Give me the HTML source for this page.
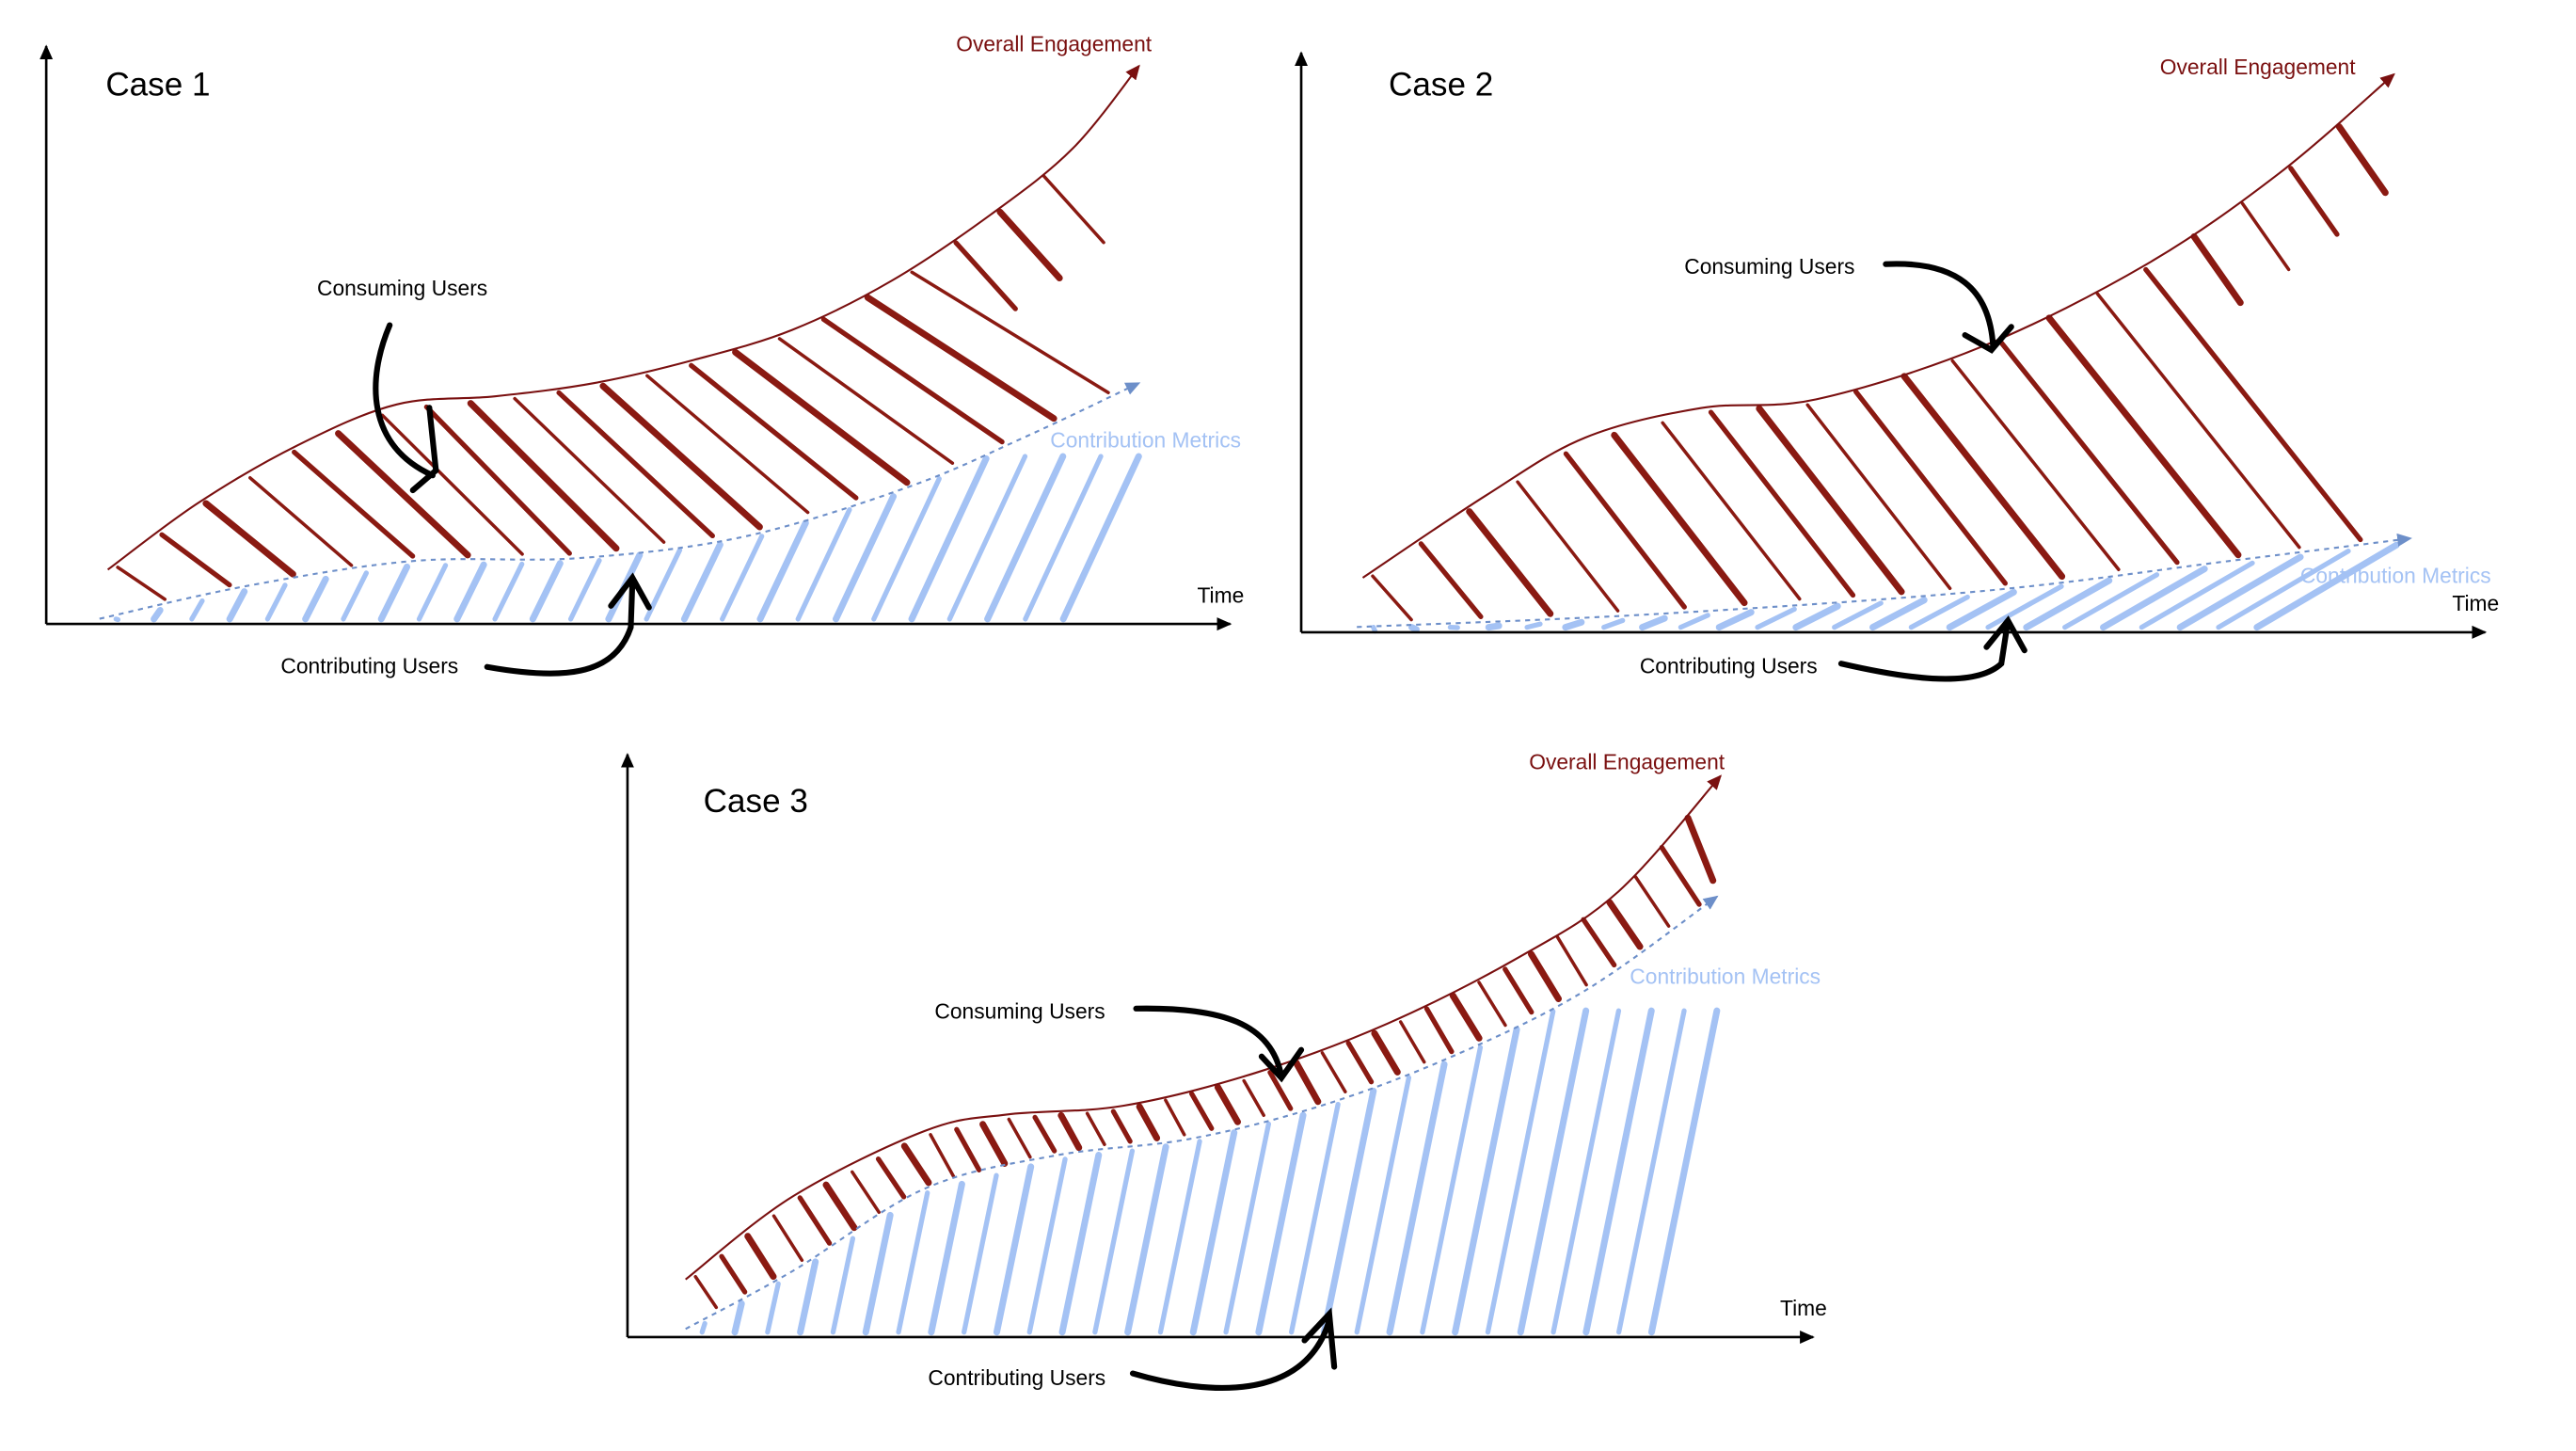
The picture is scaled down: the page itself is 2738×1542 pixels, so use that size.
<!DOCTYPE html>
<html><head><meta charset="utf-8"><style>
html,body{margin:0;padding:0;background:#fff;}
svg{display:block;}
text{font-family:"Liberation Sans",sans-serif;}
</style></head><body>
<svg id="chart" width="2738" height="1542" viewBox="0 0 1560 879" preserveAspectRatio="none" xmlns="http://www.w3.org/2000/svg">
<defs>
<marker id="ab" markerWidth="10" markerHeight="10" refX="8" refY="5" orient="auto" markerUnits="userSpaceOnUse"><path d="M0,1 L9,5 L0,9 Z" fill="#000"/></marker>
<marker id="ar" markerWidth="10" markerHeight="10" refX="8" refY="5" orient="auto" markerUnits="userSpaceOnUse"><path d="M0,1 L9,5 L0,9 Z" fill="#7a1010"/></marker>
<marker id="au" markerWidth="10" markerHeight="10" refX="8" refY="5" orient="auto" markerUnits="userSpaceOnUse"><path d="M0,1 L9,5 L0,9 Z" fill="#6d8fc9"/></marker>
</defs>
<g id="root"></g>
</svg>
<script>
// Case 1 data (time 0..100, value 0..100)
const c1EngT = [5.2,12.8,21.2,29.6,37.9,46.3,54.7,63,71.4,79.8,86.7,92.3];
const c1EngV = [9.4,20.9,30.9,38,39.4,41.7,45.7,50.9,59.4,70.9,82.3,96.6];
const c1ConT = [4.5,17,31,45,58.9,72.8,82.6,92.3];
const c1ConV = [0.9,6.6,10.9,11.4,15.1,23.7,32.3,41.7];
// Case 2 data
const c2EngT = [5.2,15.6,24,33.8,43.5,57.5,71.4,82.6,92.3];
const c2EngV = [9.4,23.6,33.6,38.7,40.2,49.3,63.5,79.2,96.3];
const c2ConT = [4.7,29.6,57.5,78.4,93.7];
const c2ConV = [0.9,3.1,7.1,12.3,16.2];
// Case 3 data
const c3EngT = [4.9,13.9,25.1,32,41.8,52.9,64.1,75.2,83.6,92.2];
const c3EngV = [9.9,24.1,35.4,38.2,39.7,45.3,53.8,65.2,76.5,96.3];
const c3ConT = [4.9,13.9,25.1,36.2,47.4,58.5,69.6,80.8,91.9];
const c3ConV = [1.4,11.3,25.5,31.2,34,39.7,48.2,59.5,75.6];

const NS="http://www.w3.org/2000/svg";
const root=document.getElementById('root');
function mk(tag,attrs,parent){const e=document.createElementNS(NS,tag);for(const k in attrs)e.setAttribute(k,attrs[k]);(parent||root).appendChild(e);return e;}
function interp(ts,vs,t){if(t<=ts[0])return vs[0];for(let i=1;i<ts.length;i++){if(t<=ts[i]){const f=(t-ts[i-1])/(ts[i]-ts[i-1]);return vs[i-1]+f*(vs[i]-vs[i-1]);}}return vs[vs.length-1];}
function smooth(pts){let d='M'+pts[0][0]+','+pts[0][1];for(let i=1;i<pts.length;i++){const p0=pts[i-2]||pts[i-1],p1=pts[i-1],p2=pts[i],p3=pts[i+1]||p2;const c1x=p1[0]+(p2[0]-p0[0])/6,c1y=p1[1]+(p2[1]-p0[1])/6,c2x=p2[0]-(p3[0]-p1[0])/6,c2y=p2[1]-(p3[1]-p1[1])/6;d+=` C${c1x},${c1y} ${c2x},${c2y} ${p2[0]},${p2[1]}`;}return d;}

function panel(id,p){
  const g=mk('g',{});
  
  
  const xs=t=>p.x0+t*p.w/100, ys=v=>p.y0-v*p.h/100;
  const tx=x=>(x-p.x0)*100/p.w;
  const eY=x=>ys(interp(p.eT,p.eV,tx(x))), cY=x=>ys(interp(p.cT,p.cV,tx(x)));
  const cEnd=xs(p.cT[p.cT.length-1]);
  const capY=ys(p.blueCap);
  const hg=mk('g',{},g);
  
  
  const xStart=xs(p.eT[0])+6, xEnd=xs(p.eT[p.eT.length-1])-4;
  const nR=p.nRed;
  for(let i=0;i<nR;i++){
    const X=xStart+(xEnd-xStart)*i/(nR-1);
    let h=cY(X)-eY(X);
    let X2=X+h*p.kr;
    let y1=eY(X)+3, y2=cY(X2)-3;
    if(X2>cEnd-3){
      const len=Math.min(h*0.6,40);
      X2=X+len*p.kr; y2=y1+len;
      if(X2>xEnd+4) continue;
    }
    const l=mk('line',{x1:X,y1:y1,x2:X2,y2:y2,stroke:'#8a1a12','stroke-width':(2+(i%3)),'stroke-linecap':'round'},hg);
    
    
  }
  const bg=mk('g',{},g);
  
  
  const bS=xs(p.cT[0])+10, bE=cEnd;
  const nB=p.nBlue;
  const topY=x=>Math.max(cY(x)+3,capY);
  for(let i=0;i<nB;i++){
    const X=bS+(bE-bS)*i/(nB-1);
    let X2=X;
    for(let k=0;k<5;k++){const hh=p.y0-topY(X2);X2=X+hh*p.kb;}
    if(X2>cEnd+1) continue;
    const l=mk('line',{x1:X,y1:p.y0-3,x2:X2,y2:topY(X2),stroke:'#a4c2f4','stroke-width':(3+(i%2)),'stroke-linecap':'round'},bg);
    
    
  }
  const ep=p.eT.map((t,i)=>[xs(t),ys(p.eV[i])]);
  const e=mk('path',{d:smooth(ep),fill:'none',stroke:'#7a1010','stroke-width':1.2,'marker-end':'url(#ar)'},g);
  
  
  const cp=p.cT.map((t,i)=>[xs(t),ys(p.cV[i])]);
  const c=mk('path',{d:smooth(cp),fill:'none',stroke:'#6d8fc9','stroke-width':1.2,'stroke-dasharray':'3,3','marker-end':'url(#au)'},g);
  
  
  const ya=mk('line',{x1:p.x0,y1:p.y0,x2:p.x0,y2:p.y0-p.h,stroke:'#000','stroke-width':1.5,'marker-end':'url(#ab)'},g);
  
  
  const xa=mk('line',{x1:p.x0,y1:p.y0,x2:p.x0+p.w,y2:p.y0,stroke:'#000','stroke-width':1.5,'marker-end':'url(#ab)'},g);
  
  
  function T(s,x,y,size,fill,name){const t=mk('text',{x:x,y:y,'font-size':size,fill:fill},g);t.textContent=s;return t;}
  T(p.title,p.titleX,p.titleY,20,'#000','panel-title');
  T('Overall Engagement',p.oeX,p.oeY,13,'#7a1010','overall-engagement-label');
  T('Contribution Metrics',p.cmX,p.cmY,13,'#a4c2f4','contribution-metrics-label');
  T('Time',p.x0+p.w-20,p.y0-13,13,'#000','time-label');
  T('Consuming Users',p.cuX,p.cuY,13,'#000','consuming-users-label');
  T('Contributing Users',p.coX,p.coY,13,'#000','contributing-users-label');
  const a1=mk('path',{d:p.arr1,fill:'none',stroke:'#000','stroke-width':3.5,'stroke-linecap':'round'},g);
  
  
  const a2=mk('path',{d:p.arr2,fill:'none',stroke:'#000','stroke-width':3.5,'stroke-linecap':'round'},g);
  
  
}
panel('case-1-panel',{x0:28,y0:378,w:717,h:350,eT:c1EngT,eV:c1EngV,cT:c1ConT,cV:c1ConV,nRed:24,nBlue:28,kr:0.9,kb:0.45,blueCap:29,
  title:'Case 1',titleX:64,titleY:58,oeX:579,oeY:31,cmX:636,cmY:271,cuX:192,cuY:179,coX:170,coY:408,
  arr1:'M236,197 C222,230 222,270 262,288 M250,297 L264,285 L260,247',
  arr2:'M295,404 C340,412 372,410 382,380 L383,352 M370,367 L383,350 L393,368'});
panel('case-2-panel',{x0:788,y0:383,w:717,h:351,eT:c2EngT,eV:c2EngV,cT:c2ConT,cV:c2ConV,nRed:22,nBlue:28,kr:0.7,kb:1.6,blueCap:100,
  title:'Case 2',titleX:841,titleY:58,oeX:1308,oeY:45,cmX:1393,cmY:353,cuX:1020,cuY:166,coX:993,coY:408,
  arr1:'M1142,160 C1185,158 1205,175 1207,210 M1190,203 L1206,212 L1218,198',
  arr2:'M1115,402 C1150,410 1195,418 1212,402 L1216,376 M1203,392 L1216,376 L1226,394'});
panel('case-3-panel',{x0:380,y0:810,w:718,h:353,eT:c3EngT,eV:c3EngV,cT:c3ConT,cV:c3ConV,nRed:40,nBlue:32,kr:0.4,kb:0.2,blueCap:56,
  title:'Case 3',titleX:426,titleY:492,oeX:926,oeY:466,cmX:987,cmY:596,cuX:566,cuY:617,coX:562,coY:839,
  arr1:'M688,611 C740,610 770,620 776,652 M764,640 L776,653 L788,636',
  arr2:'M686,832 C730,845 790,850 805,800 M790,812 L805,796 L808,828'});
</script>
</body></html>
